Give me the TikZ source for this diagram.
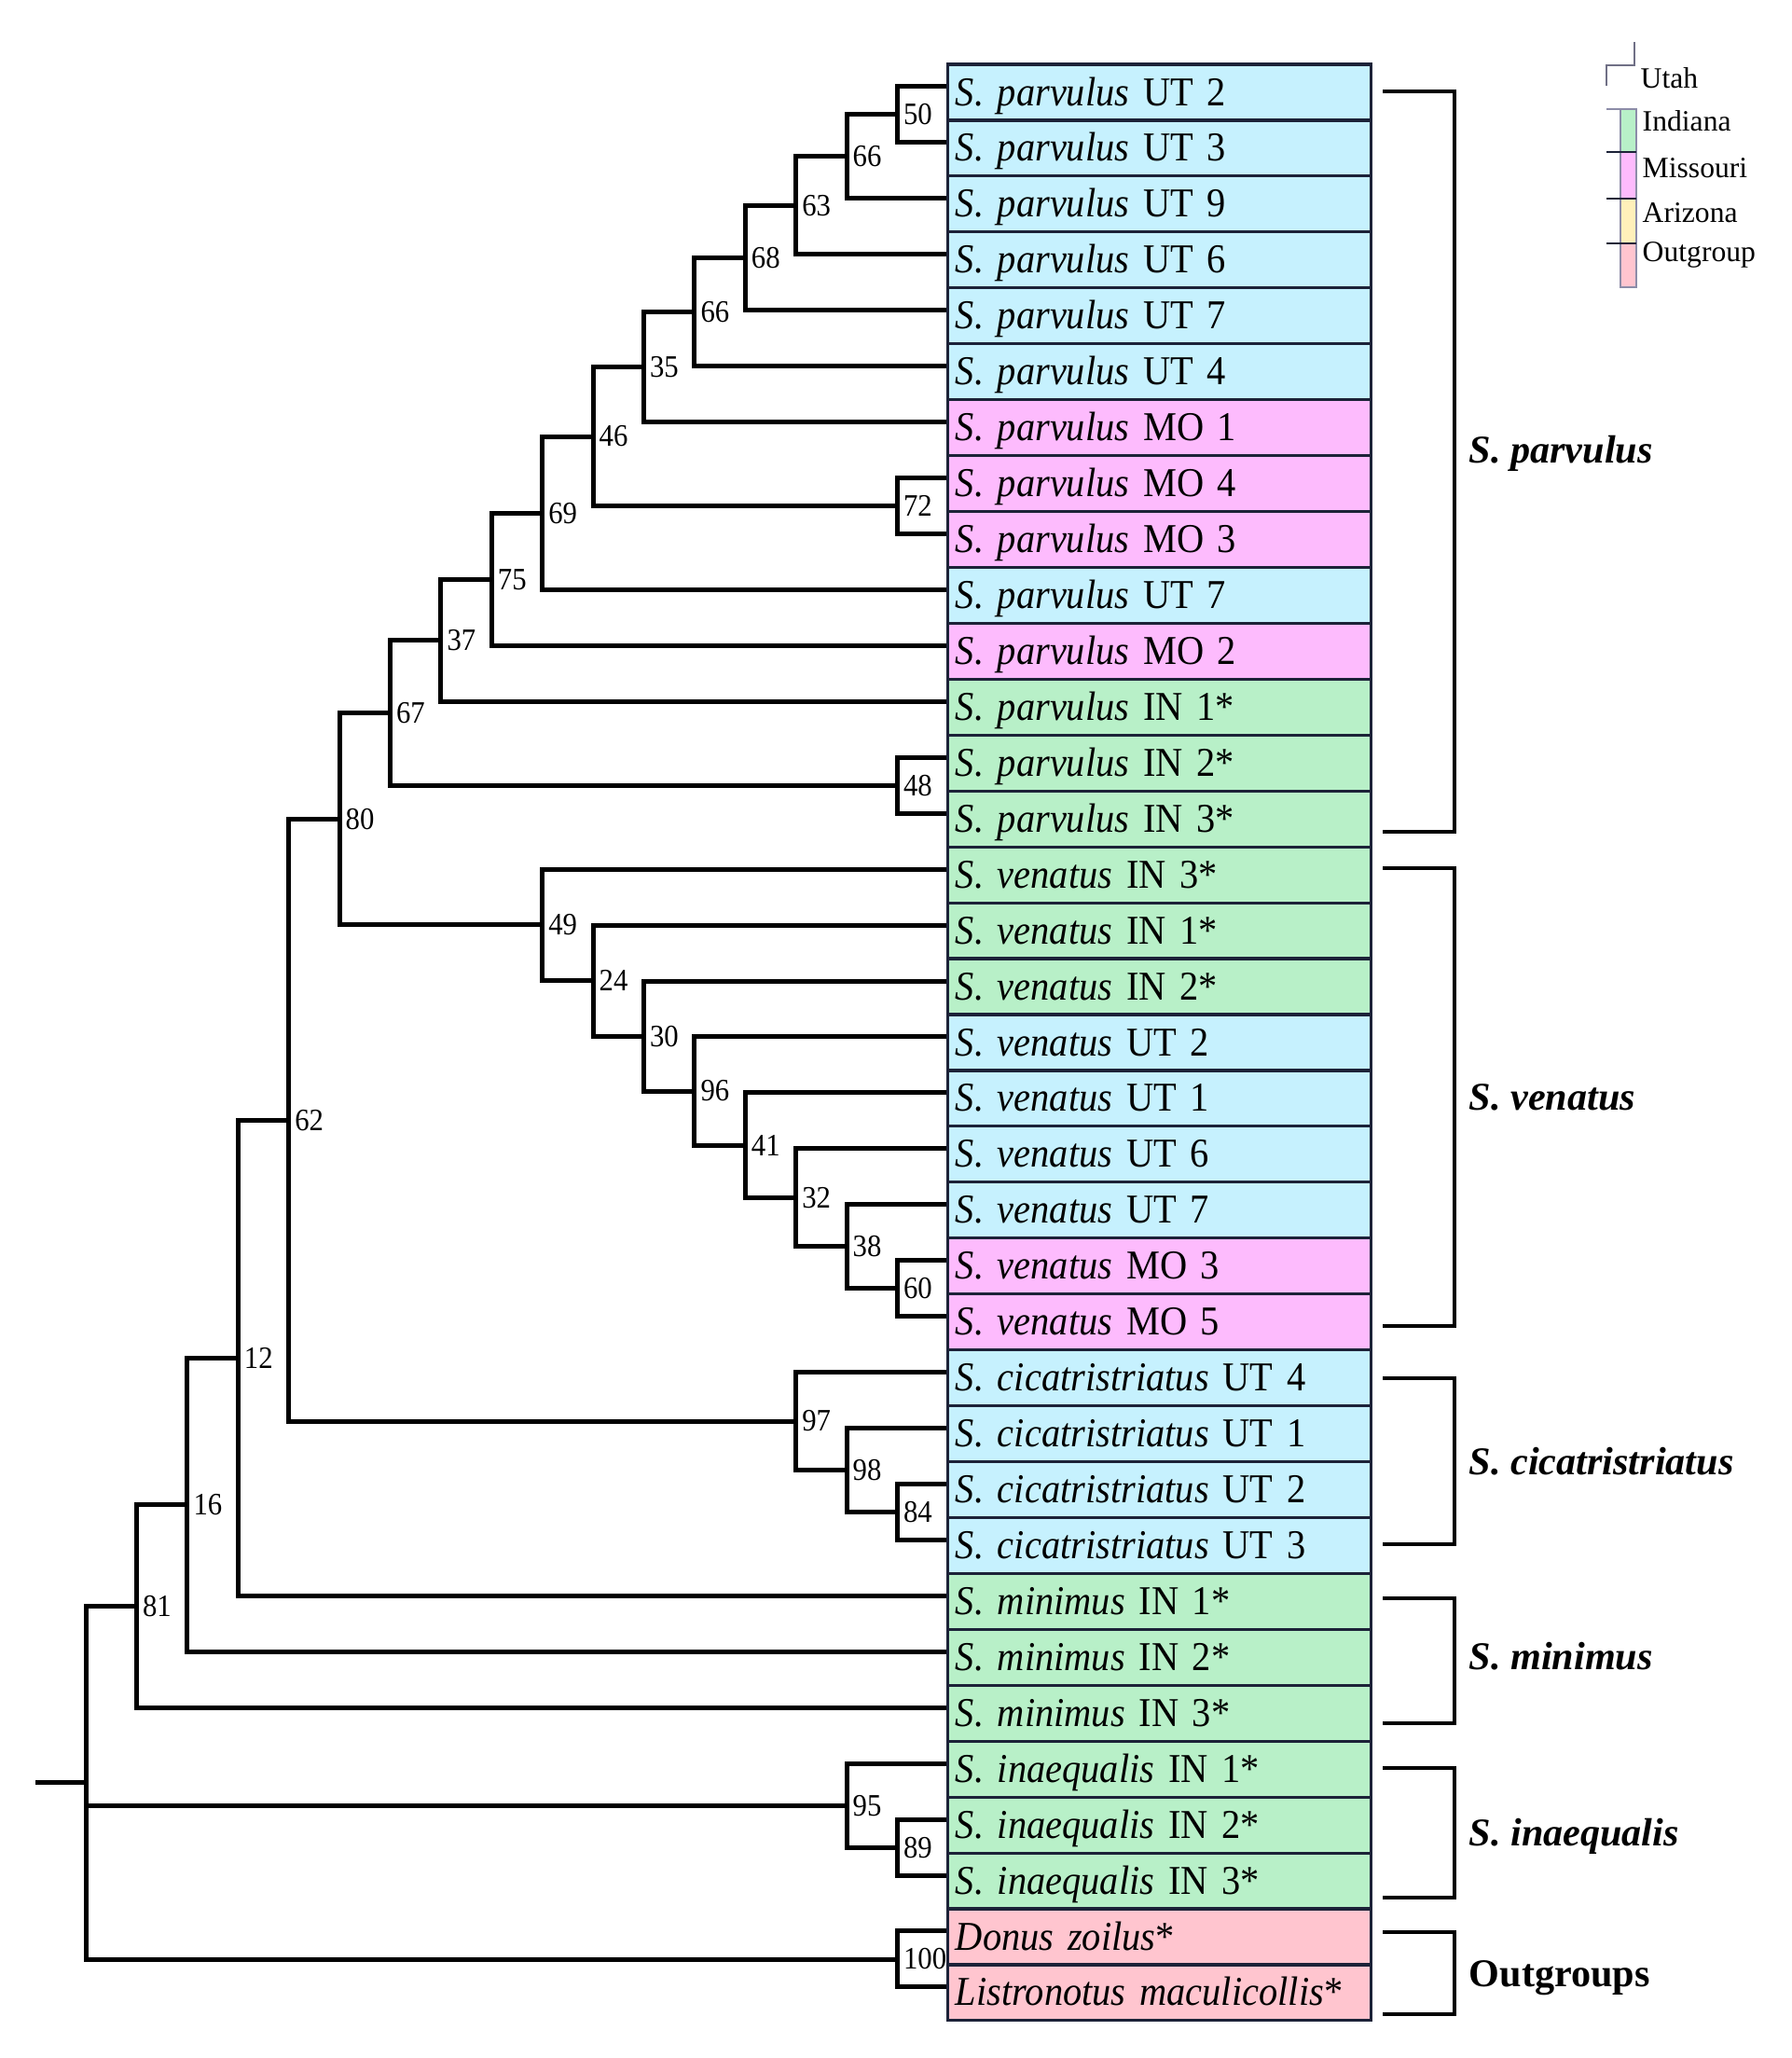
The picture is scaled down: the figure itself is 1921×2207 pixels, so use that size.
\documentclass[tikz,border=0pt]{standalone}
\usepackage{fontspec}
\setmainfont{Liberation Serif}
\newfontfamily\leaffont{Liberation Serif}[FakeStretch=0.92]
\usetikzlibrary{calc}
\definecolor{colorutah}{HTML}{C6F1FE}
\definecolor{colorindiana}{HTML}{B8F0C8}
\definecolor{colormissouri}{HTML}{FDBBFD}
\definecolor{colorarizona}{HTML}{FFF0BA}
\definecolor{coloroutgroup}{HTML}{FFC5CF}
\definecolor{colorboxline}{HTML}{1C2238}
\definecolor{colorlegend}{HTML}{8C8CA8}

\begin{document}
\begin{tikzpicture}
    [x=0.01cm, y=-0.01cm,
     branch/.style={line width=0.05cm},
     bracket/.style={line width=0.045cm},
     leaf/.style={rectangle, draw=colorboxline, line width=0.9pt, text width=4.37cm, align=left,
                  inner xsep=0.08cm, inner ysep=0pt, minimum height=0.5994cm,
                  text height=10pt, text depth=2pt, font=\leaffont\fontsize{12.5}{14}\selectfont},
     boot/.style={anchor=west, inner sep=0pt, xshift=0.06cm, font=\leaffont\fontsize{9.5}{10}\selectfont},
     grouplab/.style={anchor=west, inner sep=0pt, text height=8pt, text depth=0pt,
                      font=\fontsize{12}{14}\selectfont\bfseries},
     legtext/.style={anchor=west, inner sep=0pt, text height=6.1pt, text depth=0pt,
                     font=\fontsize{9}{10}\selectfont},
     legline/.style={draw=colorlegend, line width=0.6pt},
    ]
\useasboundingbox (0,0) rectangle (1921,2207);

% leaves
\foreach \i/\nm/\code/\fillc in {
    1/parvulus/UT 2/colorutah, 2/parvulus/UT 3/colorutah, 3/parvulus/UT 9/colorutah,
    4/parvulus/UT 6/colorutah, 5/parvulus/UT 7/colorutah, 6/parvulus/UT 4/colorutah,
    7/parvulus/MO 1/colormissouri, 8/parvulus/MO 4/colormissouri, 9/parvulus/MO 3/colormissouri,
    10/parvulus/UT 7/colorutah, 11/parvulus/MO 2/colormissouri,
    12/parvulus/IN 1*/colorindiana, 13/parvulus/IN 2*/colorindiana, 14/parvulus/IN 3*/colorindiana,
    15/venatus/IN 3*/colorindiana, 16/venatus/IN 1*/colorindiana, 17/venatus/IN 2*/colorindiana,
    18/venatus/UT 2/colorutah, 19/venatus/UT 1/colorutah, 20/venatus/UT 6/colorutah,
    21/venatus/UT 7/colorutah, 22/venatus/MO 3/colormissouri, 23/venatus/MO 5/colormissouri,
    24/cicatristriatus/UT 4/colorutah, 25/cicatristriatus/UT 1/colorutah,
    26/cicatristriatus/UT 2/colorutah, 27/cicatristriatus/UT 3/colorutah,
    28/minimus/IN 1*/colorindiana, 29/minimus/IN 2*/colorindiana, 30/minimus/IN 3*/colorindiana,
    31/inaequalis/IN 1*/colorindiana, 32/inaequalis/IN 2*/colorindiana, 33/inaequalis/IN 3*/colorindiana}{
  \node[leaf, fill=\fillc] (l\i) at (1243.5,{99+(\i-1)*59.94}) {\textit{S. \nm} \code};
  \coordinate (t\i) at ($(l\i.west)+(0,-6)$);
}
\node[leaf, fill=coloroutgroup] (l34) at (1243.5,2076.96) {\textit{Donus zoilus}*};
\node[leaf, fill=coloroutgroup] (l35) at (1243.5,2136.90) {\textit{Listronotus maculicollis}*};
\coordinate (t34) at ($(l34.west)+(0,-6)$);
\coordinate (t35) at ($(l35.west)+(0,-6)$);

% internal nodes
\coordinate (n50) at (962.4,122.97);
\coordinate (n66a) at (908,167.93);
\coordinate (n63) at (853.6,220.37);
\coordinate (n68) at (799.2,276.57);
\coordinate (n66b) at (744.8,334.63);
\coordinate (n35) at (690.4,393.64);
\coordinate (n72) at (962.4,542.55);
\coordinate (n46) at (636,468.09);
\coordinate (n69) at (581.6,550.28);
\coordinate (n75) at (527.2,621.34);
\coordinate (n37) at (472.8,686.84);
\coordinate (n48) at (962.4,842.25);
\coordinate (n67) at (418.4,764.55);
\coordinate (n60) at (962.4,1381.71);
\coordinate (n38) at (908,1336.76);
\coordinate (n32) at (853.6,1284.31);
\coordinate (n41) at (799.2,1228.12);
\coordinate (n96) at (744.8,1170.05);
\coordinate (n30) at (690.4,1111.05);
\coordinate (n24) at (636,1051.58);
\coordinate (n49) at (581.6,991.87);
\coordinate (n80) at (364,878.21);
\coordinate (n84) at (962.4,1621.47);
\coordinate (n98) at (908,1576.52);
\coordinate (n97) at (853.6,1524.07);
\coordinate (n62) at (309.6,1201.14);
\coordinate (n12) at (255.2,1456.26);
\coordinate (n16) at (200.8,1613.79);
\coordinate (n81) at (146.4,1722.53);
\coordinate (n89) at (962.4,1981.11);
\coordinate (n95) at (908,1936.16);
\coordinate (n100) at (962.4,2100.99);
\coordinate (root) at (92,1911.76);
\coordinate (stub) at (38,1911.76);

% branches
\draw[branch] (t1) -| (n50) |- (t2);
\draw[branch] (n50) -| (n66a) |- (t3);
\draw[branch] (n66a) -| (n63) |- (t4);
\draw[branch] (n63) -| (n68) |- (t5);
\draw[branch] (n68) -| (n66b) |- (t6);
\draw[branch] (n66b) -| (n35) |- (t7);
\draw[branch] (t8) -| (n72) |- (t9);
\draw[branch] (n35) -| (n46) |- (n72);
\draw[branch] (n46) -| (n69) |- (t10);
\draw[branch] (n69) -| (n75) |- (t11);
\draw[branch] (n75) -| (n37) |- (t12);
\draw[branch] (t13) -| (n48) |- (t14);
\draw[branch] (n37) -| (n67) |- (n48);
\draw[branch] (t22) -| (n60) |- (t23);
\draw[branch] (t21) -| (n38) |- (n60);
\draw[branch] (t20) -| (n32) |- (n38);
\draw[branch] (t19) -| (n41) |- (n32);
\draw[branch] (t18) -| (n96) |- (n41);
\draw[branch] (t17) -| (n30) |- (n96);
\draw[branch] (t16) -| (n24) |- (n30);
\draw[branch] (t15) -| (n49) |- (n24);
\draw[branch] (n67) -| (n80) |- (n49);
\draw[branch] (t26) -| (n84) |- (t27);
\draw[branch] (t25) -| (n98) |- (n84);
\draw[branch] (t24) -| (n97) |- (n98);
\draw[branch] (n80) -| (n62) |- (n97);
\draw[branch] (n62) -| (n12) |- (t28);
\draw[branch] (n12) -| (n16) |- (t29);
\draw[branch] (n16) -| (n81) |- (t30);
\draw[branch] (t32) -| (n89) |- (t33);
\draw[branch] (t31) -| (n95) |- (n89);
\draw[branch] (t34) -| (n100) |- (t35);
\draw[branch] (n81) -| (root) |- (n100);
\draw[branch] (root) |- (n95);
\draw[branch] (stub) -- (root);

% bootstrap values
\foreach \n/\v in {n50/50, n66a/66, n63/63, n68/68, n66b/66, n35/35, n72/72, n46/46,
    n69/69, n75/75, n37/37, n48/48, n67/67, n60/60, n38/38, n32/32, n41/41, n96/96,
    n30/30, n24/24, n49/49, n80/80, n84/84, n98/98, n97/97, n62/62, n12/12, n16/16,
    n81/81, n89/89, n95/95, n100/100}
  \node[boot] (\n-val) at (\n) {\v};

% species brackets
\foreach \g/\top/\bot/\dy/\txt in {par/98/892/-13/{\textit{S. parvulus}}, ven/931/1422/0/{\textit{S. venatus}},
    cic/1478/1656/0/{\textit{S. cicatristriatus}}, min/1714/1848/-5/{\textit{S. minimus}},
    ina/1896/2035/0/{\textit{S. inaequalis}}, out/2072/2160/0/{Outgroups}}{
  \coordinate (\g-a) at (1483,\top);
  \coordinate (\g-b) at (1483,\bot);
  \draw[bracket] (\g-a) -- ++(77,0) |- (\g-b);
  \node[grouplab] (\g-lab) at ($(\g-a)!0.5!(\g-b)+(92,\dy)$) {\txt};
}

% legend
\draw[legline, draw=colorlegend!80!black] (1753,45) |- (1723,70) -- (1723,92);
\node[legtext] (utah) at (1759,84) {Utah};
\draw[legline, fill=colorindiana] (1738,117) rectangle (1755,163);
\draw[legline, fill=colormissouri] (1738,163) rectangle (1755,213);
\draw[legline, fill=colorarizona] (1738,213) rectangle (1755,261);
\draw[legline, fill=coloroutgroup] (1738,261) rectangle (1755,308);
\draw[legline] (1723,117) -- (1755,117);
\foreach \yy in {163,213,261}
  \draw[legline, draw=colorboxline] (1723,\yy) -- (1755,\yy);
\node[legtext] (indiana) at (1761,130) {Indiana};
\node[legtext] (missouri) at (1761,180) {Missouri};
\node[legtext] (arizona) at (1761,228) {Arizona};
\node[legtext] (outgroup) at (1761,270) {Outgroup};

\end{tikzpicture}
\end{document}
